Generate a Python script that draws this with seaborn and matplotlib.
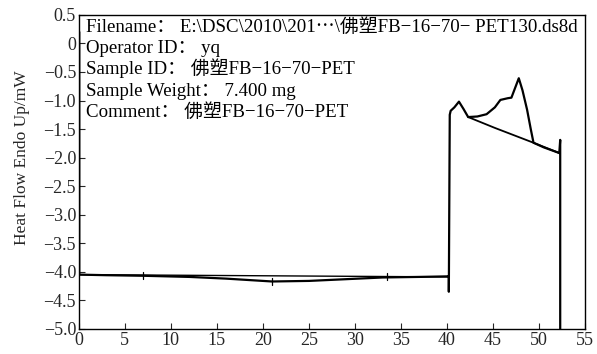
import seaborn as sns
import matplotlib.pyplot as plt
import pandas as pd

# DSC curve (time/min vs heat flow/mW)
t_run = [0.05, 0.05, 3, 7, 12, 16, 21, 25, 29, 33, 37, 40.2, 40.2, 40.3, 40.4, 40.8, 41.3, 41.8, 42.3,
         43.3, 44.3, 45.2, 45.8, 46.6, 47.0, 47.4, 47.8, 48.2, 48.7, 49.1, 49.4, 50.5, 52.2, 52.3, 52.3]
hf_run = [0.2, -4.05, -4.06, -4.07, -4.09, -4.12, -4.17, -4.16, -4.13, -4.10, -4.09, -4.08, -4.35, -1.25, -1.18, -1.12, -1.02, -1.15, -1.29,
          -1.28, -1.24, -1.12, -0.99, -0.96, -0.95, -0.78, -0.61, -0.82, -1.16, -1.5, -1.74, -1.82, -1.92, -1.69, -5.0]

# straight baseline under the flat region
t_base1 = [0, 40.2]
hf_base1 = [-4.05, -4.09]

# integration baseline under the melting peaks
t_base2 = [42.3, 45.2, 49.4, 52.2]
hf_base2 = [-1.29, -1.48, -1.74, -1.92]

# little limit markers on the baseline
t_marks = [7, 21, 33.5]
hf_marks = [-4.07, -4.17, -4.09]

info = ["Filename\uff1a E:\\DSC\\2010\\201\u22ef\\佛塑FB\u221216\u221270\u2212 PET130.ds8d",
        "Operator ID\uff1a yq",
        "Sample ID\uff1a 佛塑FB\u221216\u221270\u2212PET",
        "Sample Weight\uff1a 7.400 mg",
        "Comment\uff1a 佛塑FB\u221216\u221270\u2212PET"]

sns.set_style("ticks")
plt.rcParams['font.family'] = ['Liberation Serif', 'Noto Sans CJK SC', 'DejaVu Serif']
plt.rcParams['axes.unicode_minus'] = True

fig = plt.figure(figsize=(5.97, 3.54), dpi=100)
ax = fig.add_axes([0.132, 0.071, 0.848, 0.887])

run = pd.DataFrame({'t': t_run, 'hf': hf_run})
sns.lineplot(data=run, x='t', y='hf', sort=False, estimator=None, errorbar=None,
             color='black', lw=1.6, ax=ax)
sns.lineplot(x=t_base1, y=hf_base1, sort=False, estimator=None, errorbar=None,
             color='black', lw=1.0, ax=ax)
sns.lineplot(x=t_base2, y=hf_base2, sort=False, estimator=None, errorbar=None,
             color='black', lw=1.3, ax=ax)
for t, h in zip(t_marks, hf_marks):
    ax.plot([t, t], [h - 0.06, h + 0.06], color='black', lw=0.9)

ax.set_xlim(0, 55)
ax.set_ylim(-5.0, 0.5)
ax.set_xticks(range(0, 56, 5))
yt = [0.5, 0, -0.5, -1.0, -1.5, -2.0, -2.5, -3.0, -3.5, -4.0, -4.5, -5.0]
ax.set_yticks(yt)
ax.set_yticklabels([("0" if v == 0 else f"{v:.1f}".replace("-", "\u2212")) for v in yt])
ax.tick_params(direction='in', length=4, width=0.8, labelsize=13, pad=2)
ax.set_xlabel("")
ax.set_ylabel("Heat Flow Endo Up/mW", fontsize=12.5)
ax.yaxis.set_label_coords(-0.097, 0.545)
for s in ax.spines.values():
    s.set_visible(True)
    s.set_linewidth(1.0)
    s.set_color('black')

for i, line in enumerate(info):
    ax.text(0.014, 0.946 - i * 0.0677, line, transform=ax.transAxes, fontsize=13.6,
            va='baseline', ha='left', color='black')

fig.savefig("out.png", dpi=100)
